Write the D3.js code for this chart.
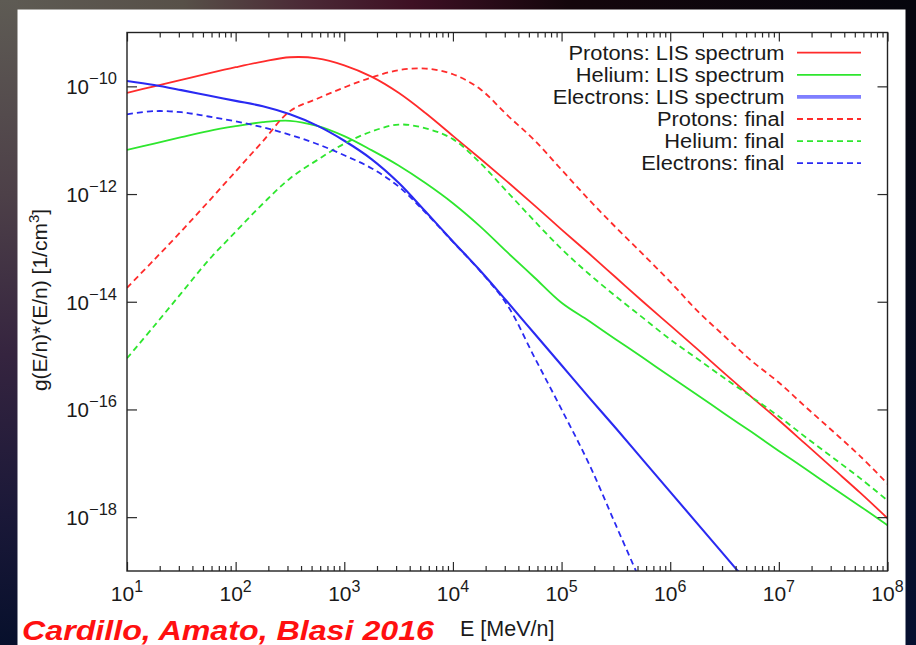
<!DOCTYPE html>
<html>
<head>
<meta charset="utf-8">
<script src="https://cdn.jsdelivr.net/npm/d3@7"></script>
<style>
  html, body { margin: 0; padding: 0; background: #0a0f26; }
  svg { display: block; }
  text { font-family: "Liberation Sans", Arial, Helvetica, sans-serif; fill: #1a1a1a; }
</style>
</head>
<body>
<svg id="chart" width="916" height="645"></svg>
<script>
// Energy grid, log10(E / MeV per nucleon)
const logEnergy = [1.0, 1.25, 1.5, 1.75, 2.0, 2.25, 2.5, 2.75, 3.0, 3.25, 3.5, 3.75, 4.0, 4.25,
                   4.5, 4.75, 5.0, 5.25, 5.5, 5.75, 6.0, 6.25, 6.5, 6.75, 7.0, 7.25, 7.5, 7.75, 8.0];

// log10 of g(E/n)*(E/n) [1/cm^3] for each spectrum (null = below the plotted range)
const protonsLIS = [-10.12, -10.0, -9.88, -9.76, -9.645, -9.54, -9.46, -9.48, -9.61, -9.82, -10.12, -10.5,
                    -10.92, -11.34, -11.77, -12.21, -12.66, -13.1, -13.55, -14.0, -14.44, -14.88, -15.33,
                    -15.77, -16.2, -16.65, -17.1, -17.55, -18.02];
const heliumLIS = [-11.18, -11.065, -10.945, -10.83, -10.74, -10.665, -10.64, -10.735, -10.925, -11.185,
                   -11.47, -11.8, -12.17, -12.6, -13.08, -13.55, -14.02, -14.355, -14.7, -15.04, -15.39,
                   -15.73, -16.08, -16.42, -16.77, -17.11, -17.46, -17.8, -18.15];
const electronsLIS = [-9.9, -9.975, -10.07, -10.17, -10.27, -10.37, -10.52, -10.73, -11.01, -11.35, -11.79,
                      -12.33, -12.88, -13.42, -14.0, -14.59, -15.18, -15.77, -16.35, -16.94, -17.53, -18.12,
                      -18.71, -19.3, null, null, null, null, null];
const protonsFinal = [-13.74, -13.22, -12.69, -12.14, -11.58, -11.02, -10.46, -10.23, -10.02, -9.835, -9.7,
                      -9.67, -9.775, -10.05, -10.535, -11.0, -11.55, -12.1, -12.62, -13.12, -13.63, -14.17,
                      -14.64, -15.1, -15.5, -15.96, -16.41, -16.87, -17.38];
const heliumFinal = [-15.05, -14.45, -13.84, -13.23, -12.7, -12.18, -11.71, -11.37, -11.065, -10.84, -10.71,
                     -10.78, -10.98, -11.42, -11.96, -12.5, -13.02, -13.48, -13.9, -14.3, -14.7, -15.06,
                     -15.42, -15.77, -16.13, -16.52, -16.9, -17.28, -17.69];
const electronsFinal = [-10.52, -10.46, -10.48, -10.56, -10.65, -10.76, -10.9, -11.07, -11.28, -11.52, -11.86,
                        -12.35, -12.89, -13.43, -14.06, -15.03, -16.0, -17.0, -18.15, -19.3, null, null, null,
                        null, null, null, null, null, null];

const seriesLabels = ["Protons: LIS spectrum", "Helium: LIS spectrum", "Electrons: LIS spectrum",
                      "Protons: final", "Helium: final", "Electrons: final"];
const seriesValues = [protonsLIS, heliumLIS, electronsLIS, protonsFinal, heliumFinal, electronsFinal];

// Axis ticks (decade exponents)
const xTickExponents = [1, 2, 3, 4, 5, 6, 7, 8];
const yTickExponents = [-18, -16, -14, -12, -10];
const xDomainExp = [1, 8];
const yDomainExp = [-19, -9];

const xTitle = "E [MeV/n]";
const creditText = "Cardillo, Amato, Blasi 2016";

// ---------- drawing ----------
const W = 916, H = 645;
const svg = d3.select("#chart");
const defs = svg.append("defs");

// slide backdrop
const gLeft = defs.append("linearGradient").attr("id", "bgLeft")
  .attr("x1", 0).attr("y1", 0).attr("x2", 0).attr("y2", 1);
[["0", "#5e5b54"], ["0.3", "#4d4048"], ["0.55", "#35243f"], ["0.8", "#1a1838"], ["1", "#07102c"]]
  .forEach(([o, c]) => gLeft.append("stop").attr("offset", o).attr("stop-color", c));
const gTop = defs.append("linearGradient").attr("id", "bgTop")
  .attr("x1", 0).attr("y1", 0).attr("x2", 1).attr("y2", 0);
[["0", "#5e5b54"], ["0.2", "#575048"], ["0.33", "#4b2a36"], ["0.45", "#3e1024"], ["0.62", "#14060c"], ["1", "#05050d"]]
  .forEach(([o, c]) => gTop.append("stop").attr("offset", o).attr("stop-color", c));
const gRight = defs.append("linearGradient").attr("id", "bgRight")
  .attr("x1", 0).attr("y1", 0).attr("x2", 0).attr("y2", 1);
[["0", "#07070f"], ["1", "#061030"]]
  .forEach(([o, c]) => gRight.append("stop").attr("offset", o).attr("stop-color", c));

svg.append("rect").attr("width", W).attr("height", H).attr("fill", "#0a0f26");
svg.append("rect").attr("x", 0).attr("y", 0).attr("width", W).attr("height", 10).attr("fill", "url(#bgTop)");
svg.append("rect").attr("x", 0).attr("y", 0).attr("width", 18).attr("height", H).attr("fill", "url(#bgLeft)");
svg.append("rect").attr("x", 905).attr("y", 10).attr("width", 11).attr("height", H - 10).attr("fill", "url(#bgRight)");
svg.append("rect").attr("x", 17.5).attr("y", 9.5).attr("width", 888).attr("height", H - 9.5).attr("fill", "#ffffff");

// plot area
const plot = { left: 127, right: 887.5, top: 32.5, bottom: 571 };
const x = d3.scaleLog().domain(xDomainExp.map(e => 10 ** e)).range([plot.left, plot.right]);
const y = d3.scaleLog().domain(yDomainExp.map(e => 10 ** e)).range([plot.bottom, plot.top]);

defs.append("clipPath").attr("id", "plotClip").append("rect")
  .attr("x", plot.left).attr("y", plot.top)
  .attr("width", plot.right - plot.left).attr("height", plot.bottom - plot.top);

// curves
const styles = [
  { color: "#ff2b2b", width: 1.8, dash: null },
  { color: "#2ee62e", width: 1.8, dash: null },
  { color: "#2a2af2", width: 2.1, dash: null },
  { color: "#ff2b2b", width: 1.8, dash: "6,4" },
  { color: "#2ee62e", width: 1.8, dash: "6,4" },
  { color: "#2a2af2", width: 1.8, dash: "6,4" }
];
const legendStyles = styles.map((s, i) => i === 2 ? { color: "#7f7fff", width: 3.6, dash: null } : s);

const line = d3.line()
  .defined(d => d[1] !== null)
  .x(d => x(10 ** d[0]))
  .y(d => y(10 ** d[1]))
  .curve(d3.curveCatmullRom.alpha(0.5));

const curves = svg.append("g").attr("clip-path", "url(#plotClip)");
seriesValues.forEach((vals, i) => {
  const pts = logEnergy.map((e, k) => [e, vals[k]]);
  curves.append("path")
    .attr("d", line(pts))
    .attr("fill", "none")
    .attr("stroke", styles[i].color)
    .attr("stroke-width", styles[i].width)
    .attr("stroke-dasharray", styles[i].dash)
    .attr("stroke-linejoin", "round");
});

// ticks (drawn inward on all four sides)
const majorX = xTickExponents.map(e => 10 ** e);
const minorX = [];
xTickExponents.slice(0, -1).forEach(e => { for (let m = 2; m <= 9; m++) minorX.push(m * 10 ** e); });
const majorY = yTickExponents.map(e => 10 ** e);

function styleAxis(g) {
  g.select(".domain").remove();
  g.selectAll("line").attr("stroke", "#2a2a2a").attr("stroke-width", 1.2);
  g.selectAll("text").remove();
}
const axes = svg.append("g");
axes.append("g").attr("transform", `translate(0,${plot.bottom})`)
  .call(d3.axisBottom(x).tickValues(majorX).tickSizeInner(-9).tickSizeOuter(0)).call(styleAxis);
axes.append("g").attr("transform", `translate(0,${plot.bottom})`)
  .call(d3.axisBottom(x).tickValues(minorX).tickSizeInner(-5).tickSizeOuter(0)).call(styleAxis);
axes.append("g").attr("transform", `translate(0,${plot.top})`)
  .call(d3.axisTop(x).tickValues(majorX).tickSizeInner(-9).tickSizeOuter(0)).call(styleAxis);
axes.append("g").attr("transform", `translate(0,${plot.top})`)
  .call(d3.axisTop(x).tickValues(minorX).tickSizeInner(-5).tickSizeOuter(0)).call(styleAxis);
axes.append("g").attr("transform", `translate(${plot.left},0)`)
  .call(d3.axisLeft(y).tickValues(majorY).tickSizeInner(-10).tickSizeOuter(0)).call(styleAxis);
axes.append("g").attr("transform", `translate(${plot.right},0)`)
  .call(d3.axisRight(y).tickValues(majorY).tickSizeInner(-10).tickSizeOuter(0)).call(styleAxis);

// frame
svg.append("rect")
  .attr("x", plot.left).attr("y", plot.top)
  .attr("width", plot.right - plot.left).attr("height", plot.bottom - plot.top)
  .attr("fill", "none").attr("stroke", "#222").attr("stroke-width", 1.4);

// tick labels: 10^n
const xl = svg.append("g");
xTickExponents.forEach(e => {
  const t = xl.append("text").attr("x", x(10 ** e)).attr("y", 601)
    .attr("text-anchor", "middle").attr("font-size", 21);
  t.append("tspan").text("10");
  t.append("tspan").attr("dy", -9).attr("font-size", 16).text(String(e));
});
const yl = svg.append("g");
yTickExponents.forEach(e => {
  const t = yl.append("text").attr("x", 117).attr("y", y(10 ** e) + 8)
    .attr("text-anchor", "end").attr("font-size", 20.5);
  t.append("tspan").text("10");
  t.append("tspan").attr("dy", -10).attr("font-size", 16.5).text("\u2212" + Math.abs(e));
});

// axis titles
svg.append("text").attr("x", (plot.left + plot.right) / 2).attr("y", 636)
  .attr("text-anchor", "middle").attr("font-size", 21.5).text(xTitle);

const yt = svg.append("text")
  .attr("transform", "translate(47,300) rotate(-90)")
  .attr("text-anchor", "middle").attr("font-size", 21);
yt.append("tspan").text("g(E/n)*(E/n) [1/cm");
yt.append("tspan").attr("dy", -8).attr("font-size", 15).text("3");
yt.append("tspan").attr("dy", 8).text("]");

// legend: compact rows, glyphs widened slightly to keep the wide key text
const legend = svg.append("g");
const legendFont = 19.5, legendWiden = 1.12;
seriesLabels.forEach((label, i) => {
  const ly = 52.7 + i * 22.1;
  const t = legend.append("text").attr("x", 784.5).attr("y", ly + 7)
    .attr("text-anchor", "end").attr("font-size", legendFont).text(label);
  const natural = t.node().getComputedTextLength();
  t.attr("textLength", natural * legendWiden).attr("lengthAdjust", "spacingAndGlyphs");
  const s = legendStyles[i];
  legend.append("line")
    .attr("x1", 797).attr("x2", 861).attr("y1", ly).attr("y2", ly)
    .attr("stroke", s.color).attr("stroke-width", s.width)
    .attr("stroke-dasharray", s.dash);
});

// credit line
svg.append("text").attr("x", 22).attr("y", 640)
  .attr("font-family", "'Comic Sans MS', 'DejaVu Sans', sans-serif")
  .attr("font-style", "italic").attr("font-weight", "bold")
  .attr("font-size", 28).style("fill", "#ff1010")
  .attr("textLength", 412).attr("lengthAdjust", "spacingAndGlyphs")
  .text(creditText);
</script>
</body>
</html>
